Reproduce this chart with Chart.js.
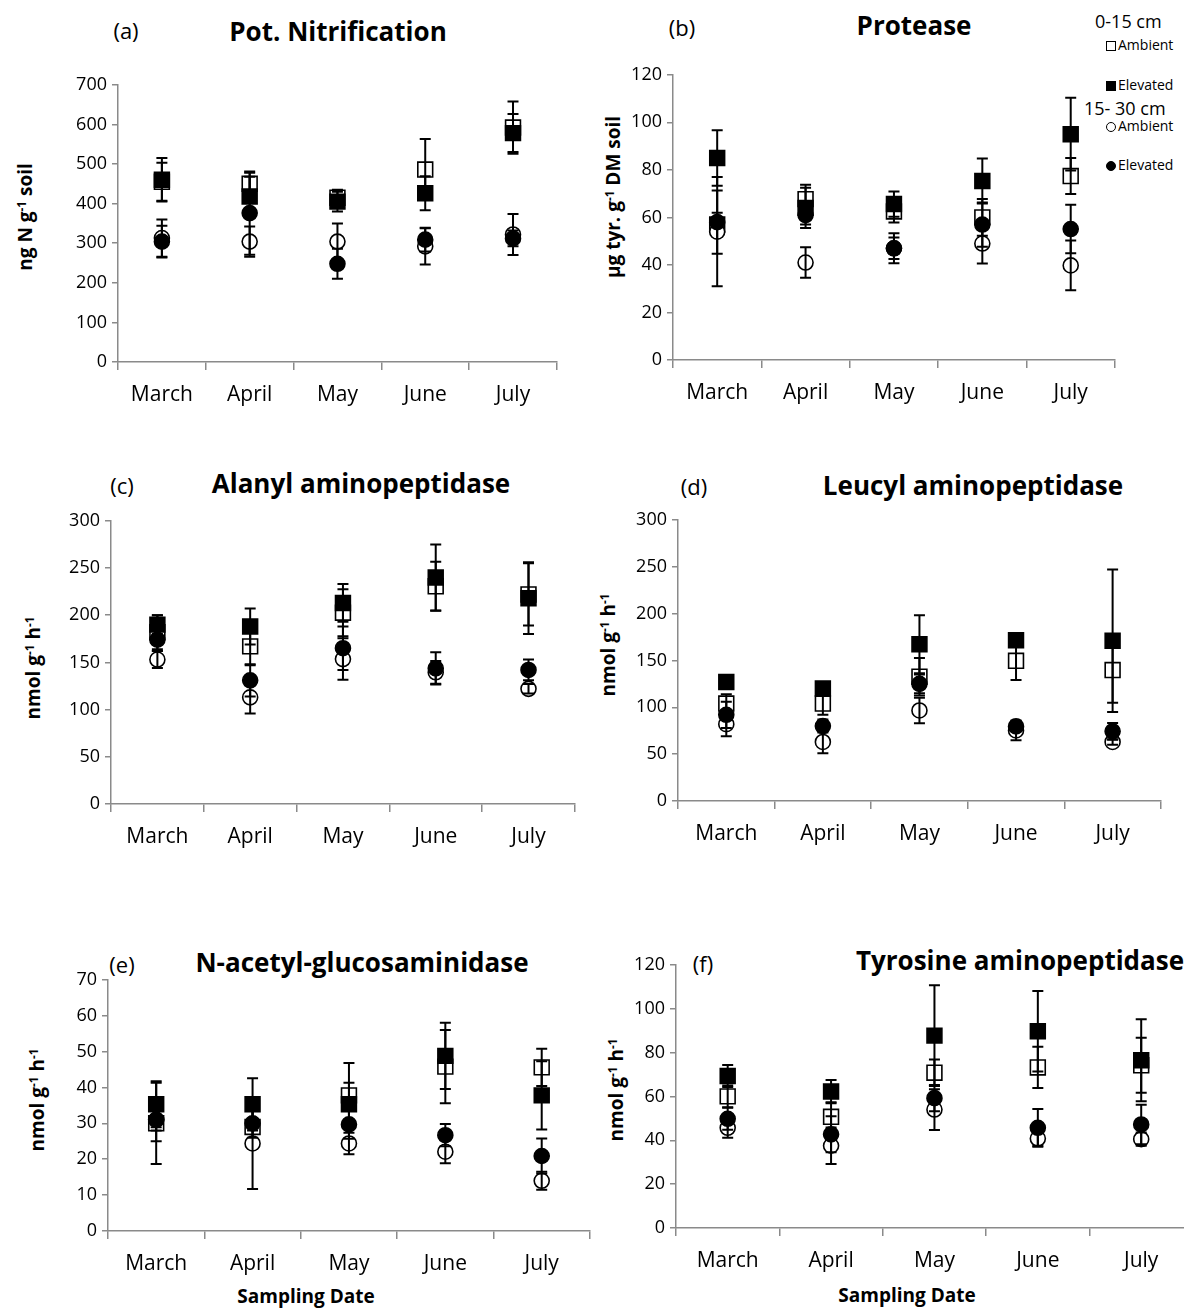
<!DOCTYPE html>
<html>
<head>
<meta charset="utf-8">
<script src="https://cdn.jsdelivr.net/npm/chart.js@4.4.1/dist/chart.umd.min.js"></script>
<style>
  html, body { margin: 0; padding: 0; background: #fff; overflow: hidden; }
  body { width: 1184px; height: 1308px; position: relative; font-family: "Open Sans", sans-serif; color: #000; }
  canvas { position: absolute; }
  .txt { position: absolute; white-space: nowrap; transform: translate(-50%, -50%); }
  .lbl { font-size: 22px; }
  .ttl { font-size: 26px; font-weight: bold; }
  .ax { font-size: 19px; font-weight: bold; }
  .yt { transform: translate(-50%, -50%) rotate(-90deg); }
  sup { font-size: 0.62em; vertical-align: 0.55em; line-height: 0; }
  .leg { position: absolute; white-space: nowrap; font-size: 14px; line-height: 1; transform: translateY(-50%); }
  .legh { position: absolute; white-space: nowrap; font-size: 18px; line-height: 1; transform: translateY(-50%); }
  .mk { display: inline-block; width: 10px; height: 10px; border: 1.5px solid #000; box-sizing: border-box; margin-right: 2px; vertical-align: -1px; }
  .mk.f { background: #000; }
  .mk.c { border-radius: 50%; }
</style>
</head>
<body>

<div class="txt lbl" style="left:126px;top:30px">(a)</div>
<div class="txt ttl" style="left:338px;top:31px">Pot. Nitrification</div>
<div class="txt lbl" style="left:682px;top:27px">(b)</div>
<div class="txt ttl" style="left:914px;top:25px">Protease</div>
<div class="txt lbl" style="left:122px;top:485px">(c)</div>
<div class="txt ttl" style="left:361px;top:483px">Alanyl aminopeptidase</div>
<div class="txt lbl" style="left:694px;top:486px">(d)</div>
<div class="txt ttl" style="left:973px;top:485px">Leucyl aminopeptidase</div>
<div class="txt lbl" style="left:122px;top:964px">(e)</div>
<div class="txt ttl" style="left:362px;top:962px">N-acetyl-glucosaminidase</div>
<div class="txt lbl" style="left:703px;top:963px">(f)</div>
<div class="txt ttl" style="left:1020px;top:960px">Tyrosine aminopeptidase</div>

<div class="txt ax yt" style="left:25px;top:217px">ng N g<sup>-1</sup> soil</div>
<div class="txt ax yt" style="left:613px;top:197px">µg tyr. g<sup>-1</sup> DM soil</div>
<div class="txt ax yt" style="left:33px;top:668px">nmol g<sup>-1</sup> h<sup>-1</sup></div>
<div class="txt ax yt" style="left:608px;top:645px">nmol g<sup>-1</sup> h<sup>-1</sup></div>
<div class="txt ax yt" style="left:37px;top:1100px">nmol g<sup>-1</sup> h<sup>-1</sup></div>
<div class="txt ax yt" style="left:616px;top:1090px">nmol g<sup>-1</sup> h<sup>-1</sup></div>
<div class="txt ax" style="left:306px;top:1296px">Sampling Date</div>
<div class="txt ax" style="left:907px;top:1295px">Sampling Date</div>

<div class="legh" style="left:1095px;top:21px">0-15 cm</div>
<div class="leg" style="left:1106px;top:45px"><span class="mk"></span>Ambient</div>
<div class="leg" style="left:1106px;top:85px"><span class="mk f"></span>Elevated</div>
<div class="legh" style="left:1084px;top:108px">15- 30 cm</div>
<div class="leg" style="left:1106px;top:126px"><span class="mk c"></span>Ambient</div>
<div class="leg" style="left:1106px;top:165px"><span class="mk c f"></span>Elevated</div>

<script>
// sampling months
const months = ['March', 'April', 'May', 'June', 'July'];

// (a) Potential nitrification, ng N g-1 soil
const nitAmb015 = [455, 450, 415, 486, 592];
const nitAmb015Err = [48, 28, 20, 77, 66];
const nitElev015 = [460, 418, 405, 426, 578];
const nitElev015Err = [55, 50, 25, 43, 48];
const nitAmb1530 = [313, 304, 304, 292, 322];
const nitAmb1530Err = [47, 38, 46, 46, 52];
const nitElev1530 = [304, 376, 248, 309, 312];
const nitElev1530Err = [40, 105, 38, 30, 20];

// (b) Protease, ug tyr. g-1 DM soil
const proAmb015 = [57, 67.7, 62.5, 60, 77.4];
const proAmb015Err = [5, 6, 4.6, 7.7, 7.6];
const proElev015 = [85, 64, 65.6, 75.3, 95];
const proElev015Err = [11.7, 8.5, 5.3, 9.5, 15.3];
const proAmb1530 = [54, 41, 47, 49, 39.8];
const proAmb1530Err = [23, 6.4, 6.3, 8.4, 10.5];
const proElev1530 = [58, 61, 47, 57, 55.1];
const proElev1530Err = [13.3, 4, 4.5, 9.3, 10.2];

// (c) Alanyl aminopeptidase, nmol g-1 h-1
const alaAmb015 = [182, 167, 202.6, 230.6, 222];
const alaAmb015Err = [18, 20, 25, 26, 33];
const alaElev015 = [190, 188, 213, 240, 218];
const alaElev015Err = [10, 19, 20, 35, 38];
const alaAmb1530 = [153, 113, 153.5, 139.5, 122];
const alaAmb1530Err = [9, 17, 22, 12, 5];
const alaElev1530 = [174, 131, 165, 143.7, 142];
const alaElev1530Err = [12, 17, 23, 17, 11];

// (d) Leucyl aminopeptidase, nmol g-1 h-1
const leuAmb015 = [104, 104, 132.6, 149.6, 139.7];
const leuAmb015Err = [10, 12, 20, 20.6, 35];
const leuElev015 = [127, 120, 167.3, 171.6, 170.9];
const leuElev015Err = [5, 5, 31, 5, 76];
const leuAmb1530 = [82, 63, 96.6, 75.3, 63];
const leuAmb1530Err = [13, 12, 13.6, 10.6, 3];
const leuElev1530 = [92, 80, 125, 79.6, 74.3];
const leuElev1530Err = [14, 7, 10, 5, 9];

// (e) N-acetyl-glucosaminidase, nmol g-1 h-1
const nagAmb015 = [30, 29, 37.8, 45.8, 45.6];
const nagAmb015Err = [11.3, 6, 9, 10.2, 5.2];
const nagElev015 = [35.3, 35.3, 35.3, 48.8, 37.8];
const nagElev015Err = [6.4, 7.3, 6, 9.2, 9.5];
const nagAmb1530 = [31, 24.4, 24.4, 22.1, 14];
const nagAmb1530Err = [3, 12.7, 3, 3.2, 2.5];
const nagElev1530 = [31, 30, 29.7, 26.7, 20.9];
const nagElev1530Err = [6, 4, 4, 3.1, 4.9];

// (f) Tyrosine aminopeptidase, nmol g-1 h-1
const tyrAmb015 = [60, 50.7, 70.8, 73.2, 74.2];
const tyrAmb015Err = [5, 6.6, 6, 9.4, 12.5];
const tyrElev015 = [69.3, 62.2, 87.7, 89.7, 76.5];
const tyrElev015Err = [5, 5.3, 23, 18.3, 18.7];
const tyrAmb1530 = [45.7, 37.5, 54, 40.8, 40.5];
const tyrAmb1530Err = [4.5, 8.3, 9.3, 3.3, 3];
const tyrElev1530 = [49.8, 42.7, 59.2, 45.7, 47.2];
const tyrElev1530Err = [5, 8.2, 6, 8.6, 9];

// y axis ranges
const yMax = { a: 700, b: 120, c: 300, d: 300, e: 70, f: 120 };
const yStep = { a: 100, b: 20, c: 50, d: 50, e: 10, f: 20 };

// plot area of each panel in page pixels: left, top, right, bottom
const plotBox = {
    a: [118, 83, 557, 362],
    b: [673, 73, 1115, 360],
    c: [111, 519, 575, 804],
    d: [678, 518, 1161, 801],
    e: [108, 978, 590, 1231],
    f: [676, 963, 1193, 1228]
};

const Y_W = 70, X_H = 58, PAD_T = 14, PAD_R = 12;

// vertical error bars with caps, drawn right after each series
const errorBars = {
    id: 'errorBars',
    afterDatasetDraw(chart, args) {
        const ds = chart.data.datasets[args.index];
        if (!ds.errors) return;
        const y = chart.scales.y;
        const ctx = chart.ctx;
        ctx.save();
        ctx.strokeStyle = '#000';
        ctx.lineWidth = 2;
        args.meta.data.forEach((pt, i) => {
            const v = ds.data[i], e = ds.errors[i];
            const top = y.getPixelForValue(v + e);
            const bot = y.getPixelForValue(v - e);
            ctx.beginPath();
            ctx.moveTo(pt.x, top); ctx.lineTo(pt.x, bot);
            ctx.moveTo(pt.x - 5.5, top); ctx.lineTo(pt.x + 5.5, top);
            ctx.moveTo(pt.x - 5.5, bot); ctx.lineTo(pt.x + 5.5, bot);
            ctx.stroke();
        });
        ctx.restore();
    }
};

function series(label, data, errors, style, filled, order) {
    return {
        label: label,
        data: data,
        errors: errors,
        showLine: false,
        pointStyle: style,
        pointRadius: style === 'rect' ? 10.5 : 7.5,
        pointBackgroundColor: filled ? '#000' : '#fff',
        pointBorderColor: '#000',
        pointBorderWidth: 1.6,
        order: order
    };
}

function makePanel(key, amb015, amb015Err, elev015, elev015Err, amb1530, amb1530Err, elev1530, elev1530Err) {
    const [L, T, R, B] = plotBox[key];
    const canvas = document.createElement('canvas');
    const w = R - L + Y_W + PAD_R;
    const h = B - T + PAD_T + X_H;
    canvas.width = w;
    canvas.height = h;
    canvas.style.left = (L - Y_W) + 'px';
    canvas.style.top = (T - PAD_T) + 'px';
    document.body.appendChild(canvas);

    new Chart(canvas.getContext('2d'), {
        type: 'line',
        data: {
            labels: months,
            datasets: [
                series('0-15 cm Ambient', amb015, amb015Err, 'rect', false, 4),
                series('0-15 cm Elevated', elev015, elev015Err, 'rect', true, 3),
                series('15-30 cm Ambient', amb1530, amb1530Err, 'circle', false, 2),
                series('15-30 cm Elevated', elev1530, elev1530Err, 'circle', true, 1)
            ]
        },
        options: {
            responsive: false,
            animation: false,
            layout: { padding: { top: PAD_T, right: PAD_R, left: 0, bottom: 0 } },
            plugins: { legend: { display: false }, tooltip: { enabled: false } },
            scales: {
                x: {
                    type: 'category',
                    offset: true,
                    grid: { offset: true, drawOnChartArea: false, tickLength: 8, color: '#8a8a8a', lineWidth: 1.5 },
                    border: { color: '#8a8a8a', width: 1.5 },
                    ticks: { color: '#000', font: { family: 'Open Sans', size: 21 }, padding: 12 },
                    afterFit: s => { s.height = X_H; }
                },
                y: {
                    min: 0,
                    max: yMax[key],
                    ticks: { stepSize: yStep[key], color: '#000', font: { family: 'Open Sans', size: 18 }, padding: 5 },
                    grid: { drawOnChartArea: false, tickLength: 6, color: '#8a8a8a', lineWidth: 1.5 },
                    border: { color: '#8a8a8a', width: 1.5 },
                    afterFit: s => { s.width = Y_W; }
                }
            }
        },
        plugins: [errorBars]
    });
}

makePanel('a', nitAmb015, nitAmb015Err, nitElev015, nitElev015Err, nitAmb1530, nitAmb1530Err, nitElev1530, nitElev1530Err);
makePanel('b', proAmb015, proAmb015Err, proElev015, proElev015Err, proAmb1530, proAmb1530Err, proElev1530, proElev1530Err);
makePanel('c', alaAmb015, alaAmb015Err, alaElev015, alaElev015Err, alaAmb1530, alaAmb1530Err, alaElev1530, alaElev1530Err);
makePanel('d', leuAmb015, leuAmb015Err, leuElev015, leuElev015Err, leuAmb1530, leuAmb1530Err, leuElev1530, leuElev1530Err);
makePanel('e', nagAmb015, nagAmb015Err, nagElev015, nagElev015Err, nagAmb1530, nagAmb1530Err, nagElev1530, nagElev1530Err);
makePanel('f', tyrAmb015, tyrAmb015Err, tyrElev015, tyrElev015Err, tyrAmb1530, tyrAmb1530Err, tyrElev1530, tyrElev1530Err);
</script>
</body>
</html>
